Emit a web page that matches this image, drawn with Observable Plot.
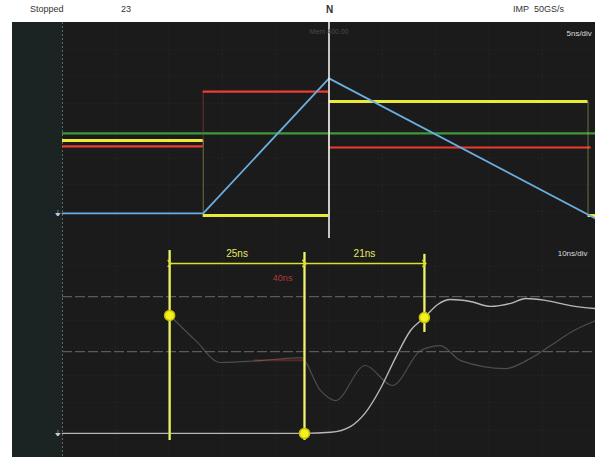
<!DOCTYPE html>
<html><head><meta charset="utf-8">
<script src="https://cdn.jsdelivr.net/npm/d3@7"></script>
<script src="https://cdn.jsdelivr.net/npm/@observablehq/plot@0.6"></script>
<style>
body{margin:0;background:#fff;width:595px;height:457px;overflow:hidden;position:relative;font-family:"Liberation Sans Narrow","Liberation Sans",sans-serif}
.h{position:absolute;font-size:9px;color:#333;top:4px;line-height:10px}
#scope{position:absolute;left:12px;top:22px;width:583px;height:435px;background:linear-gradient(to right,#1c2323 0,#1c2323 50px,#1b1b1b 50px)}
#scope svg{display:block}
</style></head><body>
<div class="h" style="left:30px">Stopped</div>
<div class="h" style="left:121px">23</div>
<div class="h" style="left:326px;font-weight:bold;font-size:10px;top:5px">N</div>
<div class="h" style="left:513px">IMP&nbsp;&nbsp;50GS/s</div>
<div id="scope"></div>
<script>
// ---------- top panel (5 ns/div, y in divisions) ----------
const topTicksX = [-20, -15, -10, -5, 5, 10, 15, 20];
const topTicksY = [-3, -2, -1, 0, 1, 2, 3];
const redStart = [-25, -11.8, 0];
const redEnd = [-11.8, 0, 24.6];
const redLevel = [-0.59, 1.44, -0.63];
const yellowStart = [-25, -11.8, 0, 24.3];
const yellowEnd = [-11.8, 0, 24.3, 25];
const yellowLevel = [-0.37, -3.15, 1.07, -3.15];
const greenLevel = [-0.11];
const blueT = [-25, -11.8, 0, 25];
const blueV = [-3.07, -3.07, 1.93, -3.26];
const triggerT = [0];

// ---------- bottom panel (10 ns/div) ----------
const botTicksX = [-40, -30, -20, -10, 0, 10, 20, 30, 40];
const botTicksY = [-3, -2, -1, 0, 1, 2, 3];
const refLevels = [1.88, -0.13];
const mainT = [-50, -4.6, 0.3, 4.0, 6.85, 9.66, 12.5, 15.3, 17.9, 20.4, 22.8, 26.5, 30.3, 34.1, 36.9, 40.6, 45.3, 50];
const mainV = [-3.12, -3.12, -3.08, -2.87, -2.36, -1.48, -0.35, 0.64, 1.11, 1.59, 1.77, 1.70, 1.52, 1.63, 1.81, 1.74, 1.55, 1.44];
const secondT = [-29.9, -25.0, -20.4, -12.9, -5.3, -1.6, 1.2, 6.8, 11.9, 17.2, 20.9, 24.7, 33.1, 37.8, 41.6, 45.3, 50];
const secondV = [1.19, 0.27, -0.53, -0.46, -0.35, -1.55, -1.92, -0.64, -1.37, -0.09, 0.09, -0.46, -0.75, -0.38, 0.09, 0.57, 1.0];
const cursorT = [-29.9, -4.6, 17.9];
const cursorTop = [3.56, 3.49, 3.42];
const cursorBottom = [-3.38, -3.38, 0.57];
const cursorDotV = [1.19, -3.12, 1.11];
const deltaLabels = ["25ns", "21ns"];
const deltaLevel = 3.09;
const redNote = "40ns";

const font = "Liberation Sans Narrow, Liberation Sans, sans-serif";
const idx = a => a.map((_, i) => i);

// ---------- build top ----------
const redEdges = idx(redStart).slice(0, -1);
const yellowEdges = idx(yellowStart).slice(0, -1);
const topChart = Plot.plot({
  width: 583, height: 216,
  marginLeft: 50, marginRight: 0, marginTop: 0, marginBottom: 0,
  x: {domain: [-25, 25], axis: null},
  y: {domain: [-4, 4], axis: null},
  style: {background: "transparent", overflow: "visible"},
  marks: [
    Plot.ruleX(topTicksX, {stroke: "#2b2b2b", strokeDasharray: "1,3"}),
    Plot.ruleY(topTicksY, {x1: -25, x2: 25, stroke: "#272727", strokeDasharray: "1,3"}),
    Plot.ruleX([-25], {stroke: "#5e6666", strokeDasharray: "2,2"}),
    Plot.ruleY(greenLevel, {x1: -25, x2: 25, stroke: "#3e9a3a", strokeWidth: 2.2}),
    Plot.ruleX(redEdges, {x: i => redEnd[i], y1: i => redLevel[i], y2: i => redLevel[i + 1], stroke: "#a04040", strokeOpacity: 0.6, strokeWidth: 1}),
    Plot.ruleY(idx(redStart), {y: i => redLevel[i], x1: i => redStart[i], x2: i => redEnd[i], stroke: "#ee3b34", strokeWidth: 2.2}),
    Plot.ruleX(yellowEdges, {x: i => yellowEnd[i], y1: i => yellowLevel[i], y2: i => yellowLevel[i + 1], stroke: "#c8c860", strokeOpacity: 0.5, strokeWidth: 1}),
    Plot.ruleY(idx(yellowStart), {y: i => yellowLevel[i], x1: i => yellowStart[i], x2: i => yellowEnd[i], stroke: "#eaea3a", strokeWidth: 3}),
    Plot.line(idx(blueT), {x: i => blueT[i], y: i => blueV[i], stroke: "#6aaee0", strokeWidth: 1.8}),
    Plot.ruleX(triggerT, {stroke: "#f2f2f2", strokeWidth: 1.6}),
    Plot.text(["5ns/div"], {x: 25, y: 3.6, text: d => d, textAnchor: "start", dx: -29, fill: "#ddd", fontSize: 8, fontFamily: font}),
    Plot.text(["Mem 400.00"], {x: 0, y: 3.65, text: d => d, fill: "#4a4a4a", fontSize: 7, fontFamily: font}),
    Plot.text(["⏚"], {x: -25, y: blueV[0], dx: -5, text: d => d, fill: "#bcd", fontSize: 8})
  ]
});

// ---------- build bottom ----------
const deltaIdx = [0, 1];
const bottomChart = Plot.plot({
  width: 583, height: 219,
  marginLeft: 50, marginRight: 0, marginTop: 0, marginBottom: 0,
  x: {domain: [-50, 50], axis: null},
  y: {domain: [-4, 4], axis: null},
  style: {background: "transparent", overflow: "visible"},
  marks: [
    Plot.ruleX(botTicksX, {stroke: "#2b2b2b", strokeDasharray: "1,3"}),
    Plot.ruleY(botTicksY, {x1: -50, x2: 50, stroke: "#2a2a2a", strokeDasharray: "1,3"}),
    Plot.ruleX([-50], {stroke: "#5e6666", strokeDasharray: "2,2"}),
    Plot.ruleY(refLevels, {x1: -50, x2: 50, stroke: "#5a5a5a", strokeDasharray: "10,3", strokeWidth: 1.2}),
    Plot.ruleY([-0.45], {x1: -14, x2: -4.6, stroke: "#7a2a2a", strokeWidth: 2, strokeOpacity: 0.7}),
    Plot.line(idx(secondT), {x: i => secondT[i], y: i => secondV[i], stroke: "#8a8a8a", strokeOpacity: 0.45, strokeWidth: 1.2, curve: "monotone-x"}),
    Plot.line(idx(mainT), {x: i => mainT[i], y: i => mainV[i], stroke: "#b8b8b8", strokeWidth: 1.4, curve: "monotone-x"}),
    Plot.ruleX(idx(cursorT), {x: i => cursorT[i], y1: i => cursorTop[i], y2: i => cursorBottom[i], stroke: "#c8d020", strokeWidth: 2.6}),
    Plot.ruleX(idx(cursorT), {x: i => cursorT[i], y1: i => cursorTop[i], y2: i => cursorBottom[i], stroke: "#f4f4e0", strokeWidth: 0.8}),
    Plot.link(deltaIdx, {x1: i => cursorT[i], x2: i => cursorT[i + 1], y1: deltaLevel, y2: deltaLevel, stroke: "#d8e030", strokeWidth: 1.5, markerStart: "arrow", markerEnd: "arrow"}),
    Plot.text(deltaIdx, {x: i => (cursorT[i] + cursorT[i + 1]) / 2, y: 3.45, text: i => deltaLabels[i], fill: "#e6ea60", fontSize: 10, fontFamily: font}),
    Plot.text([redNote], {x: -8.7, y: 2.54, text: d => d, fill: "#b03a3a", fontSize: 9, fontFamily: font}),
    Plot.dot(idx(cursorT), {x: i => cursorT[i], y: i => cursorDotV[i], r: 5, fill: "#f2f020", stroke: "#c8c000"}),
    Plot.text(["10ns/div"], {x: 50, y: 3.45, text: d => d, textAnchor: "end", dx: -8, fill: "#ddd", fontSize: 8, fontFamily: font}),
    Plot.text(["⏚"], {x: -50, y: mainV[0], dx: -5, text: d => d, fill: "#ccc", fontSize: 8})
  ]
});

const scope = document.getElementById("scope");
scope.appendChild(topChart);
scope.appendChild(bottomChart);
</script>
</body></html>
